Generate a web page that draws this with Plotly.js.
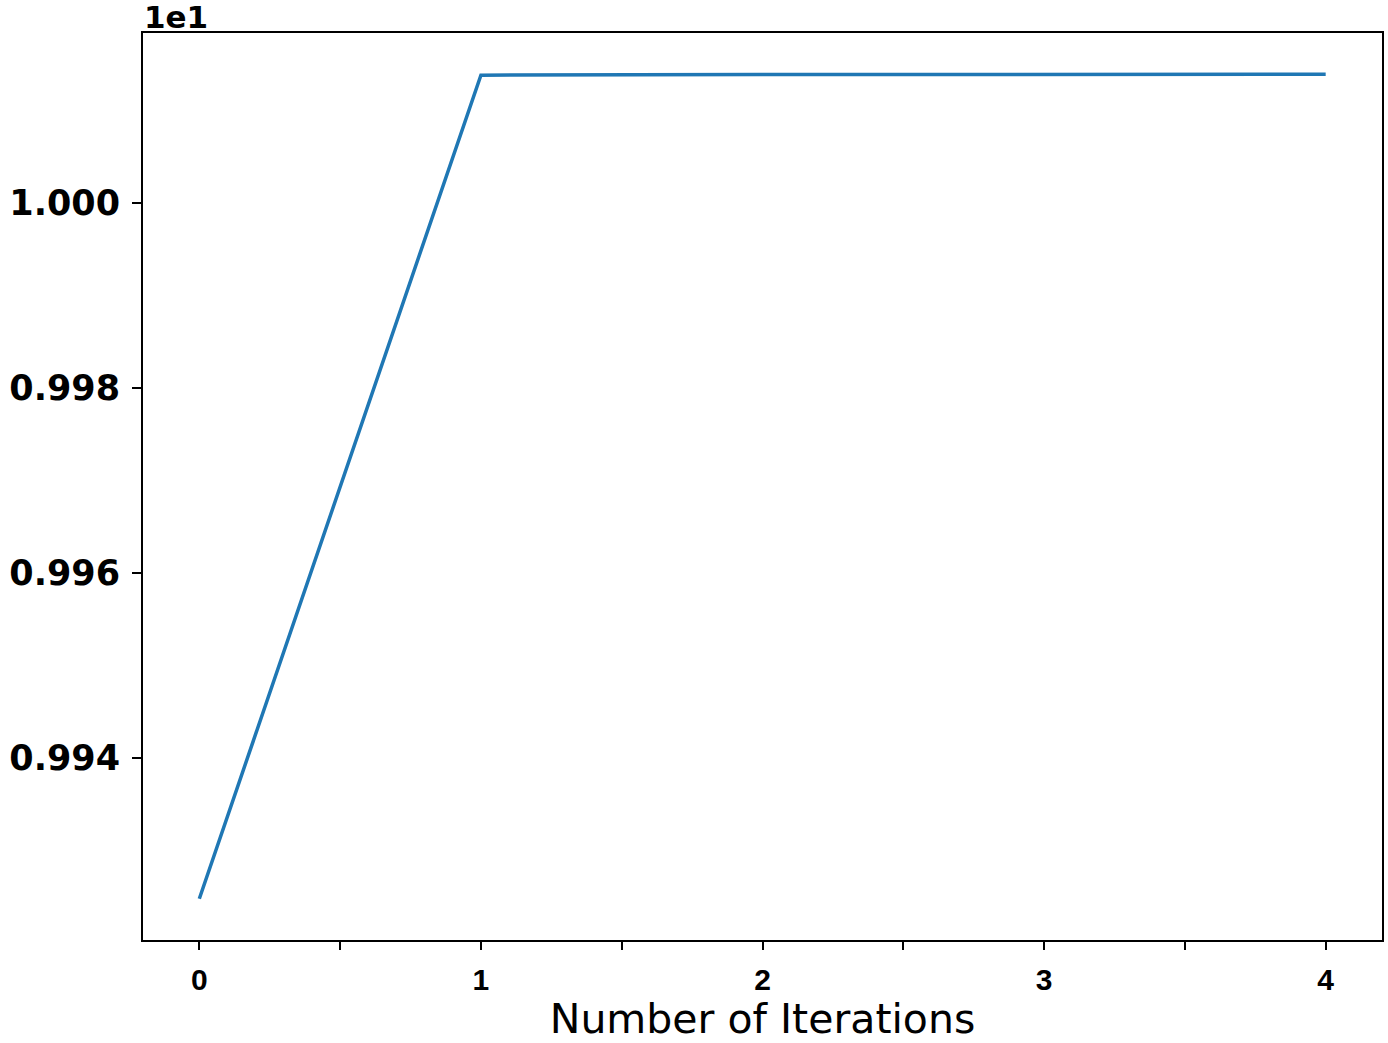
<!DOCTYPE html>
<html>
<head>
<meta charset="utf-8">
<script src="https://cdn.plot.ly/plotly-3.0.1.min.js"></script>
<style>
  html, body { margin: 0; padding: 0; background: #fff; }
  #chart { width: 1388px; height: 1043px; }
</style>
</head>
<body>
<div id="chart"></div>
<script>
// iterations and the objective value (real values, axis shown with 1e1 offset)
var iterations = [0, 1, 2, 3, 4];
var values = [9.92473, 10.01383, 10.01389, 10.01391, 10.01393];

var xTickVals = [0, 0.5, 1, 1.5, 2, 2.5, 3, 3.5, 4];
var xTickText = ["0", "", "1", "", "2", "", "3", "", "4"];
var yTickVals = [9.94, 9.96, 9.98, 10.00];
var yTickText = ["0.994", "0.996", "0.998", "1.000"];
var offsetLabel = "1e1";

var trace = {
  x: iterations,
  y: values,
  type: "scatter",
  mode: "lines",
  line: {color: "#1f77b4", width: 3.5}
};

var layout = {
  width: 1388,
  height: 1043,
  margin: {l: 143, r: 6, t: 33, b: 103},
  paper_bgcolor: "#fff",
  plot_bgcolor: "#fff",
  showlegend: false,
  xaxis: {
    range: [-0.2, 4.2],
    tickmode: "array",
    tickvals: xTickVals,
    ticktext: xTickText,
    ticks: "outside",
    ticklen: 8,
    tickwidth: 2,
    tickcolor: "#000",
    showline: true,
    mirror: true,
    linecolor: "#000",
    linewidth: 2,
    showgrid: false,
    zeroline: false,
    ticklabelstandoff: 4,
    tickfont: {family: "Liberation Sans Narrow, Liberation Sans, Arial", size: 30, color: "#000", weight: "bold"},
    title: {text: "Number of Iterations", font: {family: "DejaVu Sans", size: 41, color: "#000"}, standoff: 16}
  },
  yaxis: {
    range: [9.92027, 10.01839],
    tickmode: "array",
    tickvals: yTickVals,
    ticktext: yTickText,
    ticks: "outside",
    ticklen: 9,
    tickwidth: 2,
    tickcolor: "#000",
    showline: true,
    mirror: true,
    linecolor: "#000",
    linewidth: 2,
    showgrid: false,
    zeroline: false,
    ticklabelstandoff: 5,
    tickfont: {family: "DejaVu Sans", size: 35, color: "#000", weight: "bold"}
  },
  annotations: [{
    text: offsetLabel,
    xref: "paper", yref: "paper",
    x: 0, y: 1,
    xanchor: "left", yanchor: "bottom",
    showarrow: false,
    borderpad: 0,
    yshift: -3,
    font: {family: "DejaVu Sans", size: 31, color: "#000", weight: "bold"}
  }]
};

Plotly.newPlot("chart", [trace], layout, {displayModeBar: false, staticPlot: true});
</script>
</body>
</html>
